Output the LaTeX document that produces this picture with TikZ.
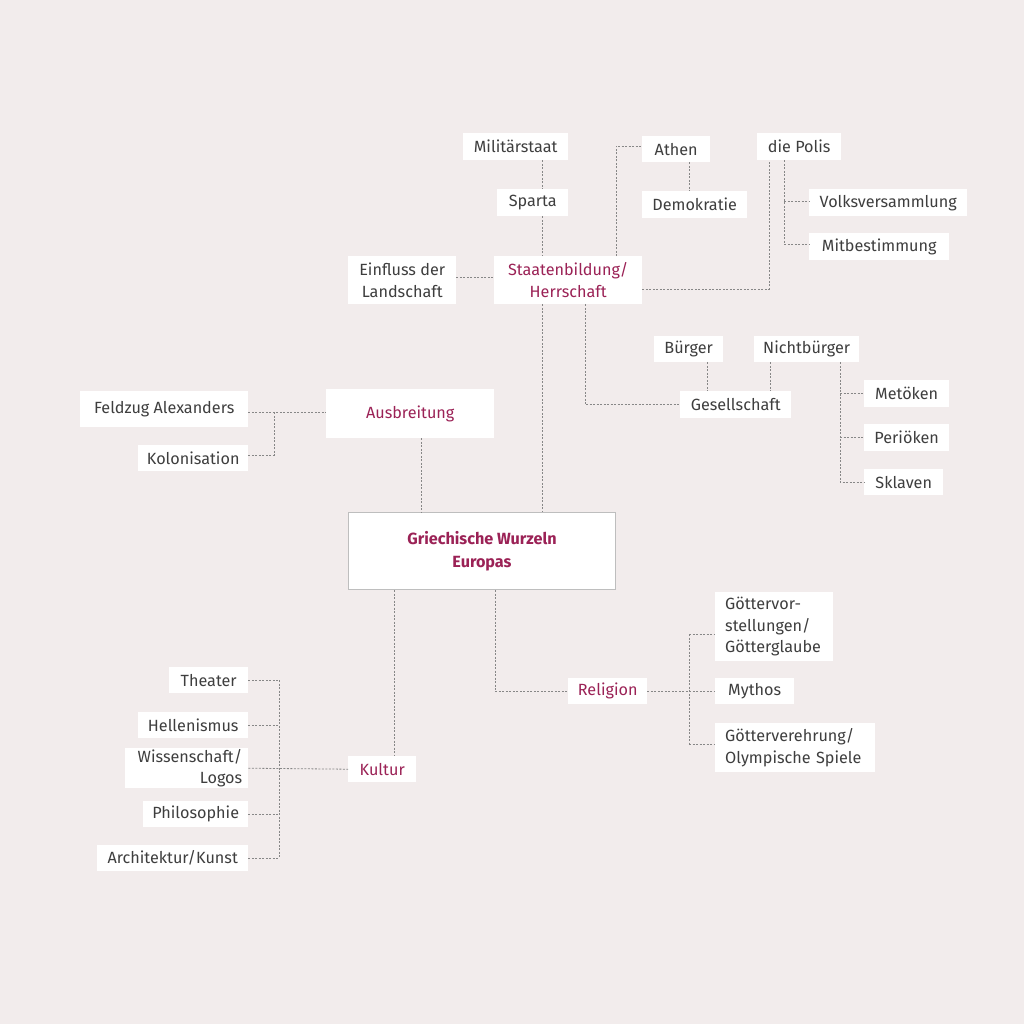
\documentclass[tikz,border=0pt]{standalone}
\usepackage{fontspec}
\setmainfont{Fira Sans}
\definecolor{bg}{RGB}{242,236,236}
\definecolor{txt}{RGB}{62,62,62}
\definecolor{acc}{RGB}{155,34,86}
\definecolor{lc}{RGB}{135,135,135}
\definecolor{bord}{RGB}{190,190,190}
\tikzset{
  box/.style={fill=white, text=txt, inner sep=0pt, anchor=north west, font=\fontsize{16.2}{21.5}\selectfont},
  headbox/.style={box, text=acc},
  conn/.style={draw=lc, dash pattern=on 2pt off 1.5pt, line width=0.8pt},
}
\begin{document}
\begin{tikzpicture}[x=1pt,y=-1pt]
\fill[bg] (0,0) rectangle (1024,1024);
\useasboundingbox (0,0) rectangle (1024,1024);
% helper coordinates
\foreach \v in {274,279,394,421,495,542,585,616,689,707,769,770,784,840}{\coordinate (x\v) at (\v,0);}
\foreach \v in {146,201,244,277,289,412,455,634,744}{\coordinate (y\v) at (0,\v);}
% nodes
\node[box, minimum width=105, minimum height=27] (milit) at (463,133) {Militärstaat};
\node[box, minimum width=71, minimum height=27] (sparta) at (497,189) {Sparta};
\node[box, minimum width=68, minimum height=26] (athen) at (642,136) {Athen};
\node[box, minimum width=105, minimum height=27] (demo) at (642,191) {Demokratie};
\node[box, minimum width=84, minimum height=27] (polis) at (757,133) {die Polis};
\node[box, minimum width=158, minimum height=27] (volks) at (809,189) {Volksversammlung};
\node[box, minimum width=140, minimum height=27] (mitbest) at (809,233) {Mitbestimmung};
\node[box, minimum width=108, minimum height=48, align=center] (einfluss) at (348,256) {Einfluss der\\Landschaft};
\node[headbox, minimum width=148, minimum height=48, align=center] (staat) at (494,256) {Staatenbildung/\\Herrschaft};
\node[box, minimum width=69, minimum height=26] (buerger) at (654,336) {Bürger};
\node[box, minimum width=105, minimum height=26] (nicht) at (754,336) {Nichtbürger};
\node[box, minimum width=111, minimum height=27] (gesell) at (680,391) {Gesellschaft};
\node[box, minimum width=85, minimum height=27] (metoeken) at (864,380) {Metöken};
\node[box, minimum width=85, minimum height=27] (perioeken) at (864,424) {Periöken};
\node[box, minimum width=79, minimum height=26] (sklaven) at (864,469) {Sklaven};
\node[box, minimum width=168, minimum height=36] (feldzug) at (80,391) {Feldzug Alexanders};
\node[box, minimum width=110, minimum height=26] (kolon) at (138,445) {Kolonisation};
\node[headbox, minimum width=168, minimum height=49] (ausb) at (326,389) {Ausbreitung};
\node[headbox, draw=bord, line width=1pt, minimum width=267, minimum height=77, align=center, font=\fontsize{16.2}{22.5}\selectfont\bfseries] (central) at (348,512) {Griechische Wurzeln\\Europas};
\node[box, minimum width=118, minimum height=69, align=left, text width=98, inner xsep=10] (gvor) at (715,592) {Göttervor-\\stellungen/\\Götterglaube};
\node[box, minimum width=79, minimum height=26] (mythos) at (715,678) {Mythos};
\node[box, minimum width=158, minimum height=49, align=left, text width=140, inner xsep=10] (gver) at (715,723) {Götterverehrung/\\Olympische Spiele};
\node[headbox, minimum width=79, minimum height=26] (religion) at (568,678) {Religion};
\node[box, minimum width=79, minimum height=26] (theater) at (169,667) {Theater};
\node[box, minimum width=110, minimum height=26] (helle) at (138,712) {Hellenismus};
\node[box, minimum width=123, minimum height=40, align=right, text width=111, inner xsep=6] (wiss) at (125,748) {Wissenschaft/\\Logos};
\node[box, minimum width=105, minimum height=26] (philo) at (143,801) {Philosophie};
\node[box, minimum width=151, minimum height=26] (archi) at (97,845) {Architektur/Kunst};
\node[headbox, minimum width=68, minimum height=26] (kultur) at (348,756) {Kultur};
% connectors
\draw[conn] (x542 |- milit.south) -- (x542 |- sparta.north);
\draw[conn] (x542 |- sparta.south) -- (x542 |- staat.north);
\draw[conn] (x542 |- staat.south) -- (x542 |- central.north);
\draw[conn] (einfluss.east |- y277) -- (staat.west |- y277);
\draw[conn] (x616 |- staat.north) -- (x616 |- y146) -- (athen.west |- y146);
\draw[conn] (x689 |- athen.south) -- (x689 |- demo.north);
\draw[conn] (staat.east |- y289) -- (x769 |- y289) -- (x769 |- polis.south);
\draw[conn] (x784 |- polis.south) -- (x784 |- y244) -- (mitbest.west |- y244);
\draw[conn] (x784 |- y201) -- (volks.west |- y201);
\draw[conn] (x585 |- staat.south) |- (gesell.west);
\draw[conn] (x707 |- buerger.south) -- (x707 |- gesell.north);
\draw[conn] (x770 |- nicht.south) -- (x770 |- gesell.north);
\draw[conn] (x840 |- nicht.south) |- (sklaven.west);
\draw[conn] (x840 |- metoeken.west) -- (metoeken.west);
\draw[conn] (x840 |- perioeken.west) -- (perioeken.west);
\draw[conn] (feldzug.east |- y412) -- (ausb.west |- y412);
\draw[conn] (kolon.east |- y455) -- (x274 |- y455) -- (x274 |- y412);
\draw[conn] (x421 |- ausb.south) -- (x421 |- central.north);
\draw[conn] (x394 |- central.south) -- (x394 |- kultur.north);
\draw[conn] (x279 |- theater.east) -- (x279 |- archi.east);
\draw[conn] (theater.east) -- (x279 |- theater.east);
\draw[conn] (helle.east) -- (x279 |- helle.east);
\draw[conn] (wiss.east) -- (kultur.west);
\draw[conn] (philo.east) -- (x279 |- philo.east);
\draw[conn] (archi.east) -- (x279 |- archi.east);
\draw[conn] (x495 |- central.south) |- (religion.west);
\draw[conn] (religion.east) -- (mythos.west);
\draw[conn] (x689 |- y634) -- (x689 |- y744);
\draw[conn] (x689 |- y634) -- (gvor.west |- y634);
\draw[conn] (x689 |- y744) -- (gver.west |- y744);
\end{tikzpicture}
\end{document}
